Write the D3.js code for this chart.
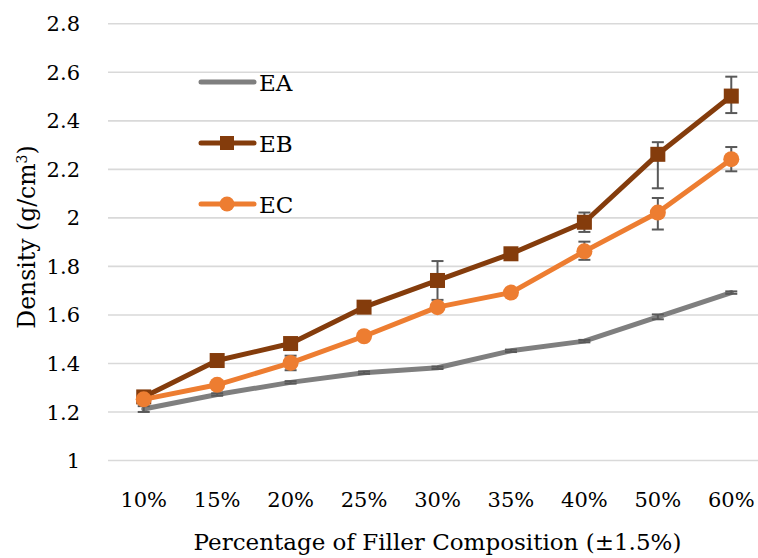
<!DOCTYPE html>
<html>
<head>
<meta charset="utf-8">
<script src="https://cdn.jsdelivr.net/npm/d3@7"></script>
<style>
  body { margin: 0; background: #fff; }
  svg text { font-family: "DejaVu Serif", serif; fill: #000; }
</style>
</head>
<body>
<div id="chart"></div>
<script>
// categories and values
var categories = ["10%", "15%", "20%", "25%", "30%", "35%", "40%", "50%", "60%"];
var yTicks = [1, 1.2, 1.4, 1.6, 1.8, 2, 2.2, 2.4, 2.6, 2.8];

var eaValues = [1.21, 1.27, 1.32, 1.36, 1.38, 1.45, 1.49, 1.59, 1.69];
var ebValues = [1.26, 1.41, 1.48, 1.63, 1.74, 1.85, 1.98, 2.26, 2.50];
var ecValues = [1.25, 1.31, 1.40, 1.51, 1.63, 1.69, 1.86, 2.02, 2.24];

// error bars (plus / minus)
var eaErrPlus  = [0.012, 0.005, 0.005, 0.005, 0.005, 0.005, 0.005, 0.01, 0.005];
var eaErrMinus = [0.012, 0.005, 0.005, 0.005, 0.005, 0.005, 0.005, 0.01, 0.005];
var ebErrPlus  = [0.01, 0.01, 0.01, 0.01, 0.08, 0.01, 0.04, 0.05, 0.08];
var ebErrMinus = [0.01, 0.01, 0.01, 0.01, 0.08, 0.01, 0.04, 0.14, 0.07];
var ecErrPlus  = [0.01, 0.01, 0.03, 0.01, 0.01, 0.01, 0.04, 0.06, 0.05];
var ecErrMinus = [0.01, 0.01, 0.03, 0.01, 0.01, 0.01, 0.035, 0.07, 0.05];

var seriesNames = ["EA", "EB", "EC"];
var seriesColors = ["#7f7f7f", "#843c0c", "#ed7d31"];

var width = 758, height = 558;
var tickFont = "21px";

var svg = d3.select("#chart").append("svg")
    .attr("width", width)
    .attr("height", height);

var xScale = d3.scaleBand().domain(categories).range([107, 768]).padding(0);
var yScale = d3.scaleLinear().domain([1, 2.8]).range([460, 23.3]);

function cx(c) { return xScale(c) + xScale.bandwidth() / 2; }

// gridlines + y tick labels
var yAxis = svg.append("g")
    .attr("transform", "translate(108,0)")
    .call(d3.axisLeft(yScale)
        .tickValues(yTicks)
        .tickFormat(d3.format("~g"))
        .tickSize(-(width))
        .tickPadding(28));
yAxis.select(".domain").remove();
yAxis.attr("font-family", null);
yAxis.selectAll(".tick line").attr("stroke", "#d9d9d9").attr("stroke-width", 1.6);
yAxis.selectAll(".tick text").style("font-size", tickFont).attr("dy", "0.36em");

// x tick labels
var xAxis = svg.append("g")
    .attr("transform", "translate(0,460)")
    .call(d3.axisBottom(xScale).tickSize(0).tickPadding(47));
xAxis.select(".domain").remove();
xAxis.attr("font-family", null);
xAxis.selectAll(".tick text").style("font-size", tickFont).attr("dy", "0");

// axis titles
svg.append("text")
    .attr("x", 437.5)
    .attr("y", 550)
    .attr("text-anchor", "middle")
    .style("font-size", "23px")
    .text("Percentage of Filler Composition (±1.5%)");

var yTitle = svg.append("text")
    .attr("transform", "translate(35,237) rotate(-90)")
    .attr("text-anchor", "middle")
    .style("font-size", "23.5px");
yTitle.append("tspan").text("Density (g/cm");
yTitle.append("tspan").attr("baseline-shift", "super").style("font-size", "14px").text("3");
yTitle.append("tspan").text(")");

var allValues = [eaValues, ebValues, ecValues];
var allPlus = [eaErrPlus, ebErrPlus, ecErrPlus];
var allMinus = [eaErrMinus, ebErrMinus, ecErrMinus];

var line = d3.line()
    .x(function(d) { return cx(d.cat); })
    .y(function(d) { return yScale(d.value); });

function seriesData(i) {
    return categories.map(function(c, j) {
        return { cat: c, value: allValues[i][j], plus: allPlus[i][j], minus: allMinus[i][j] };
    });
}

// draw each series: errors behind markers like Excel
[0, 1, 2].forEach(function(i) {
    var data = seriesData(i);
    var g = svg.append("g");

    g.append("path")
        .datum(data)
        .attr("d", line)
        .attr("fill", "none")
        .attr("stroke", seriesColors[i])
        .attr("stroke-width", 5)
        .attr("stroke-linejoin", "round")
        .attr("stroke-linecap", "round");

    var err = g.selectAll(".err").data(data).enter().append("g");
    err.append("line")
        .attr("x1", function(d) { return cx(d.cat); })
        .attr("x2", function(d) { return cx(d.cat); })
        .attr("y1", function(d) { return yScale(d.value + d.plus); })
        .attr("y2", function(d) { return yScale(d.value - d.minus); })
        .attr("stroke", "#595959").attr("stroke-width", 2);
    err.append("line")
        .attr("x1", function(d) { return cx(d.cat) - 6; })
        .attr("x2", function(d) { return cx(d.cat) + 6; })
        .attr("y1", function(d) { return yScale(d.value + d.plus); })
        .attr("y2", function(d) { return yScale(d.value + d.plus); })
        .attr("stroke", "#595959").attr("stroke-width", 2);
    err.append("line")
        .attr("x1", function(d) { return cx(d.cat) - 6; })
        .attr("x2", function(d) { return cx(d.cat) + 6; })
        .attr("y1", function(d) { return yScale(d.value - d.minus); })
        .attr("y2", function(d) { return yScale(d.value - d.minus); })
        .attr("stroke", "#595959").attr("stroke-width", 2);

    if (i === 1) {
        g.selectAll(".mk").data(data).enter().append("rect")
            .attr("x", function(d) { return cx(d.cat) - 7.5; })
            .attr("y", function(d) { return yScale(d.value) - 7.5; })
            .attr("width", 15).attr("height", 15)
            .attr("fill", seriesColors[i]);
    } else if (i === 2) {
        g.selectAll(".mk").data(data).enter().append("circle")
            .attr("cx", function(d) { return cx(d.cat); })
            .attr("cy", function(d) { return yScale(d.value); })
            .attr("r", 8)
            .attr("fill", seriesColors[i]);
    }
});

// legend
var legendY = [82, 143, 204];
var legend = svg.append("g");
seriesNames.forEach(function(name, i) {
    var lg = legend.append("g").attr("transform", "translate(0," + legendY[i] + ")");
    lg.append("line")
        .attr("x1", 201).attr("x2", 254)
        .attr("stroke", seriesColors[i]).attr("stroke-width", 5)
        .attr("stroke-linecap", "round");
    if (i === 1) {
        lg.append("rect").attr("x", 220).attr("y", -7).attr("width", 14).attr("height", 14)
            .attr("fill", seriesColors[i]);
    } else if (i === 2) {
        lg.append("circle").attr("cx", 227).attr("cy", 0).attr("r", 7.5)
            .attr("fill", seriesColors[i]);
    }
    lg.append("text")
        .attr("x", 259).attr("y", 8.5)
        .style("font-size", "23px")
        .text(name);
});
</script>
</body>
</html>
